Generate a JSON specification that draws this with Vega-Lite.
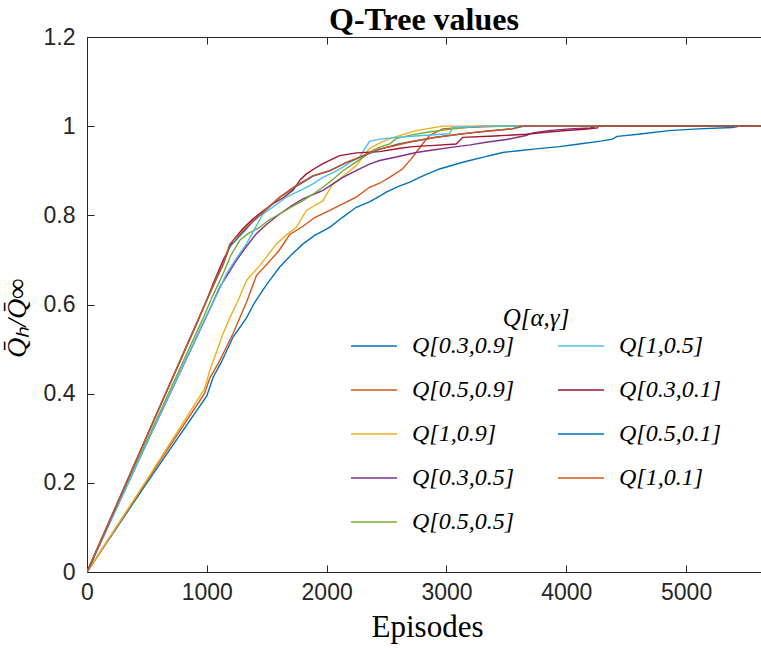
{
  "$schema": "https://vega.github.io/schema/vega-lite/v6.json",
  "width": 674,
  "height": 535,
  "autosize": {"type": "none"},
  "padding": {"left": 87, "top": 37, "right": 0, "bottom": 77},
  "background": "white",
  "title": {"text": "Q-Tree values", "font": "Liberation Serif", "fontSize": 32, "fontWeight": "bold", "color": "#000000", "anchor": "middle", "offset": 5, "dy": 16},
  "config": {
    "view": {"stroke": null},
    "axis": {"grid": false, "domainColor": "#262626", "domainWidth": 1, "tickColor": "#262626", "tickWidth": 1, "labelColor": "#262626", "labelFont": "Liberation Sans", "labelFontSize": 23, "titleFont": "Liberation Serif", "titleFontWeight": "normal", "titleColor": "#000000", "titleFontSize": 31}
  },
  "layer": [
    {
      "data": {"values": [
        {"s":"Q[0.3,0.9]","x":0,"y":0},{"s":"Q[0.3,0.9]","x":500,"y":0.2},{"s":"Q[0.3,0.9]","x":1000,"y":0.395},{"s":"Q[0.3,0.9]","x":1053,"y":0.437},{"s":"Q[0.3,0.9]","x":1120,"y":0.47},{"s":"Q[0.3,0.9]","x":1219,"y":0.527},{"s":"Q[0.3,0.9]","x":1331,"y":0.57},{"s":"Q[0.3,0.9]","x":1400,"y":0.605},{"s":"Q[0.3,0.9]","x":1500,"y":0.645},{"s":"Q[0.3,0.9]","x":1608,"y":0.684},{"s":"Q[0.3,0.9]","x":1700,"y":0.71},{"s":"Q[0.3,0.9]","x":1803,"y":0.736},{"s":"Q[0.3,0.9]","x":1900,"y":0.755},{"s":"Q[0.3,0.9]","x":2025,"y":0.773},{"s":"Q[0.3,0.9]","x":2130,"y":0.795},{"s":"Q[0.3,0.9]","x":2247,"y":0.818},{"s":"Q[0.3,0.9]","x":2358,"y":0.83},{"s":"Q[0.3,0.9]","x":2442,"y":0.843},{"s":"Q[0.3,0.9]","x":2497,"y":0.852},{"s":"Q[0.3,0.9]","x":2600,"y":0.865},{"s":"Q[0.3,0.9]","x":2700,"y":0.875},{"s":"Q[0.3,0.9]","x":2775,"y":0.885},{"s":"Q[0.3,0.9]","x":2942,"y":0.904},{"s":"Q[0.3,0.9]","x":3136,"y":0.919},{"s":"Q[0.3,0.9]","x":3300,"y":0.93},{"s":"Q[0.3,0.9]","x":3469,"y":0.941},{"s":"Q[0.3,0.9]","x":3600,"y":0.945},{"s":"Q[0.3,0.9]","x":3747,"y":0.949},{"s":"Q[0.3,0.9]","x":3942,"y":0.954},{"s":"Q[0.3,0.9]","x":4108,"y":0.96},{"s":"Q[0.3,0.9]","x":4300,"y":0.967},{"s":"Q[0.3,0.9]","x":4386,"y":0.971},{"s":"Q[0.3,0.9]","x":4425,"y":0.977},{"s":"Q[0.3,0.9]","x":4600,"y":0.982},{"s":"Q[0.3,0.9]","x":4858,"y":0.99},{"s":"Q[0.3,0.9]","x":5100,"y":0.994},{"s":"Q[0.3,0.9]","x":5386,"y":0.997},{"s":"Q[0.3,0.9]","x":5450,"y":1.0},{"s":"Q[0.3,0.9]","x":5625,"y":1.0},

        {"s":"Q[0.5,0.9]","x":0,"y":0},{"s":"Q[0.5,0.9]","x":500,"y":0.205},{"s":"Q[0.5,0.9]","x":980,"y":0.4},{"s":"Q[0.5,0.9]","x":1025,"y":0.435},{"s":"Q[0.5,0.9]","x":1100,"y":0.47},{"s":"Q[0.5,0.9]","x":1219,"y":0.535},{"s":"Q[0.5,0.9]","x":1331,"y":0.605},{"s":"Q[0.5,0.9]","x":1414,"y":0.665},{"s":"Q[0.5,0.9]","x":1500,"y":0.69},{"s":"Q[0.5,0.9]","x":1600,"y":0.72},{"s":"Q[0.5,0.9]","x":1692,"y":0.757},{"s":"Q[0.5,0.9]","x":1800,"y":0.775},{"s":"Q[0.5,0.9]","x":1900,"y":0.795},{"s":"Q[0.5,0.9]","x":2025,"y":0.811},{"s":"Q[0.5,0.9]","x":2150,"y":0.828},{"s":"Q[0.5,0.9]","x":2247,"y":0.841},{"s":"Q[0.5,0.9]","x":2358,"y":0.863},{"s":"Q[0.5,0.9]","x":2442,"y":0.872},{"s":"Q[0.5,0.9]","x":2525,"y":0.885},{"s":"Q[0.5,0.9]","x":2633,"y":0.904},{"s":"Q[0.5,0.9]","x":2700,"y":0.925},{"s":"Q[0.5,0.9]","x":2747,"y":0.941},{"s":"Q[0.5,0.9]","x":2800,"y":0.96},{"s":"Q[0.5,0.9]","x":2858,"y":0.979},{"s":"Q[0.5,0.9]","x":2967,"y":0.994},{"s":"Q[0.5,0.9]","x":3133,"y":0.997},{"s":"Q[0.5,0.9]","x":3500,"y":1.0},{"s":"Q[0.5,0.9]","x":5625,"y":1.0},

        {"s":"Q[1,0.9]","x":0,"y":0},{"s":"Q[1,0.9]","x":500,"y":0.207},{"s":"Q[1,0.9]","x":980,"y":0.41},{"s":"Q[1,0.9]","x":1025,"y":0.452},{"s":"Q[1,0.9]","x":1136,"y":0.535},{"s":"Q[1,0.9]","x":1192,"y":0.57},{"s":"Q[1,0.9]","x":1261,"y":0.609},{"s":"Q[1,0.9]","x":1331,"y":0.654},{"s":"Q[1,0.9]","x":1450,"y":0.69},{"s":"Q[1,0.9]","x":1581,"y":0.736},{"s":"Q[1,0.9]","x":1660,"y":0.755},{"s":"Q[1,0.9]","x":1747,"y":0.773},{"s":"Q[1,0.9]","x":1831,"y":0.811},{"s":"Q[1,0.9]","x":1969,"y":0.833},{"s":"Q[1,0.9]","x":2053,"y":0.871},{"s":"Q[1,0.9]","x":2150,"y":0.89},{"s":"Q[1,0.9]","x":2247,"y":0.912},{"s":"Q[1,0.9]","x":2358,"y":0.95},{"s":"Q[1,0.9]","x":2442,"y":0.962},{"s":"Q[1,0.9]","x":2525,"y":0.972},{"s":"Q[1,0.9]","x":2650,"y":0.982},{"s":"Q[1,0.9]","x":2747,"y":0.99},{"s":"Q[1,0.9]","x":2967,"y":1.0},{"s":"Q[1,0.9]","x":5625,"y":1.0},

        {"s":"Q[0.3,0.5]","x":0,"y":0},{"s":"Q[0.3,0.5]","x":500,"y":0.29},{"s":"Q[0.3,0.5]","x":1000,"y":0.575},{"s":"Q[0.3,0.5]","x":1108,"y":0.639},{"s":"Q[0.3,0.5]","x":1247,"y":0.699},{"s":"Q[0.3,0.5]","x":1330,"y":0.73},{"s":"Q[0.3,0.5]","x":1414,"y":0.759},{"s":"Q[0.3,0.5]","x":1500,"y":0.78},{"s":"Q[0.3,0.5]","x":1608,"y":0.803},{"s":"Q[0.3,0.5]","x":1700,"y":0.82},{"s":"Q[0.3,0.5]","x":1803,"y":0.837},{"s":"Q[0.3,0.5]","x":1969,"y":0.856},{"s":"Q[0.3,0.5]","x":2050,"y":0.87},{"s":"Q[0.3,0.5]","x":2136,"y":0.885},{"s":"Q[0.3,0.5]","x":2275,"y":0.904},{"s":"Q[0.3,0.5]","x":2358,"y":0.915},{"s":"Q[0.3,0.5]","x":2442,"y":0.923},{"s":"Q[0.3,0.5]","x":2600,"y":0.932},{"s":"Q[0.3,0.5]","x":2747,"y":0.941},{"s":"Q[0.3,0.5]","x":2900,"y":0.947},{"s":"Q[0.3,0.5]","x":3053,"y":0.953},{"s":"Q[0.3,0.5]","x":3200,"y":0.958},{"s":"Q[0.3,0.5]","x":3331,"y":0.964},{"s":"Q[0.3,0.5]","x":3500,"y":0.97},{"s":"Q[0.3,0.5]","x":3664,"y":0.979},{"s":"Q[0.3,0.5]","x":3720,"y":0.985},{"s":"Q[0.3,0.5]","x":3850,"y":0.99},{"s":"Q[0.3,0.5]","x":4025,"y":0.994},{"s":"Q[0.3,0.5]","x":4200,"y":0.996},{"s":"Q[0.3,0.5]","x":4260,"y":1.0},{"s":"Q[0.3,0.5]","x":5625,"y":1.0},

        {"s":"Q[0.5,0.5]","x":0,"y":0},{"s":"Q[0.5,0.5]","x":500,"y":0.295},{"s":"Q[0.5,0.5]","x":970,"y":0.57},{"s":"Q[0.5,0.5]","x":1050,"y":0.62},{"s":"Q[0.5,0.5]","x":1136,"y":0.669},{"s":"Q[0.5,0.5]","x":1200,"y":0.71},{"s":"Q[0.5,0.5]","x":1275,"y":0.744},{"s":"Q[0.5,0.5]","x":1350,"y":0.76},{"s":"Q[0.5,0.5]","x":1442,"y":0.773},{"s":"Q[0.5,0.5]","x":1520,"y":0.79},{"s":"Q[0.5,0.5]","x":1608,"y":0.803},{"s":"Q[0.5,0.5]","x":1700,"y":0.818},{"s":"Q[0.5,0.5]","x":1803,"y":0.833},{"s":"Q[0.5,0.5]","x":1900,"y":0.85},{"s":"Q[0.5,0.5]","x":1969,"y":0.863},{"s":"Q[0.5,0.5]","x":2050,"y":0.88},{"s":"Q[0.5,0.5]","x":2136,"y":0.9},{"s":"Q[0.5,0.5]","x":2220,"y":0.915},{"s":"Q[0.5,0.5]","x":2303,"y":0.93},{"s":"Q[0.5,0.5]","x":2380,"y":0.945},{"s":"Q[0.5,0.5]","x":2442,"y":0.953},{"s":"Q[0.5,0.5]","x":2525,"y":0.96},{"s":"Q[0.5,0.5]","x":2580,"y":0.972},{"s":"Q[0.5,0.5]","x":2700,"y":0.98},{"s":"Q[0.5,0.5]","x":2850,"y":0.987},{"s":"Q[0.5,0.5]","x":3053,"y":0.994},{"s":"Q[0.5,0.5]","x":3300,"y":1.0},{"s":"Q[0.5,0.5]","x":5625,"y":1.0},

        {"s":"Q[1,0.5]","x":0,"y":0},{"s":"Q[1,0.5]","x":500,"y":0.29},{"s":"Q[1,0.5]","x":997,"y":0.575},{"s":"Q[1,0.5]","x":1080,"y":0.62},{"s":"Q[1,0.5]","x":1164,"y":0.669},{"s":"Q[1,0.5]","x":1250,"y":0.705},{"s":"Q[1,0.5]","x":1331,"y":0.736},{"s":"Q[1,0.5]","x":1400,"y":0.77},{"s":"Q[1,0.5]","x":1469,"y":0.803},{"s":"Q[1,0.5]","x":1560,"y":0.82},{"s":"Q[1,0.5]","x":1664,"y":0.841},{"s":"Q[1,0.5]","x":1803,"y":0.859},{"s":"Q[1,0.5]","x":1900,"y":0.873},{"s":"Q[1,0.5]","x":1969,"y":0.885},{"s":"Q[1,0.5]","x":2050,"y":0.895},{"s":"Q[1,0.5]","x":2136,"y":0.908},{"s":"Q[1,0.5]","x":2200,"y":0.92},{"s":"Q[1,0.5]","x":2275,"y":0.93},{"s":"Q[1,0.5]","x":2320,"y":0.95},{"s":"Q[1,0.5]","x":2358,"y":0.966},{"s":"Q[1,0.5]","x":2442,"y":0.971},{"s":"Q[1,0.5]","x":2600,"y":0.975},{"s":"Q[1,0.5]","x":2800,"y":0.979},{"s":"Q[1,0.5]","x":3025,"y":0.983},{"s":"Q[1,0.5]","x":3053,"y":0.997},{"s":"Q[1,0.5]","x":3300,"y":1.0},{"s":"Q[1,0.5]","x":5625,"y":1.0},

        {"s":"Q[0.3,0.1]","x":0,"y":0},{"s":"Q[0.3,0.1]","x":500,"y":0.305},{"s":"Q[0.3,0.1]","x":928,"y":0.565},{"s":"Q[0.3,0.1]","x":1000,"y":0.61},{"s":"Q[0.3,0.1]","x":1053,"y":0.647},{"s":"Q[0.3,0.1]","x":1136,"y":0.699},{"s":"Q[0.3,0.1]","x":1219,"y":0.744},{"s":"Q[0.3,0.1]","x":1300,"y":0.77},{"s":"Q[0.3,0.1]","x":1386,"y":0.792},{"s":"Q[0.3,0.1]","x":1470,"y":0.81},{"s":"Q[0.3,0.1]","x":1553,"y":0.826},{"s":"Q[0.3,0.1]","x":1640,"y":0.84},{"s":"Q[0.3,0.1]","x":1719,"y":0.856},{"s":"Q[0.3,0.1]","x":1780,"y":0.88},{"s":"Q[0.3,0.1]","x":1831,"y":0.893},{"s":"Q[0.3,0.1]","x":1900,"y":0.905},{"s":"Q[0.3,0.1]","x":1969,"y":0.916},{"s":"Q[0.3,0.1]","x":2108,"y":0.934},{"s":"Q[0.3,0.1]","x":2250,"y":0.94},{"s":"Q[0.3,0.1]","x":2442,"y":0.943},{"s":"Q[0.3,0.1]","x":2600,"y":0.95},{"s":"Q[0.3,0.1]","x":2719,"y":0.954},{"s":"Q[0.3,0.1]","x":2900,"y":0.957},{"s":"Q[0.3,0.1]","x":3081,"y":0.96},{"s":"Q[0.3,0.1]","x":3136,"y":0.975},{"s":"Q[0.3,0.1]","x":3400,"y":0.978},{"s":"Q[0.3,0.1]","x":3664,"y":0.982},{"s":"Q[0.3,0.1]","x":3850,"y":0.987},{"s":"Q[0.3,0.1]","x":4025,"y":0.991},{"s":"Q[0.3,0.1]","x":4150,"y":0.993},{"s":"Q[0.3,0.1]","x":4261,"y":0.996},{"s":"Q[0.3,0.1]","x":4265,"y":1.0},{"s":"Q[0.3,0.1]","x":5625,"y":1.0},

        {"s":"Q[0.5,0.1]","x":0,"y":0},{"s":"Q[0.5,0.1]","x":500,"y":0.305},{"s":"Q[0.5,0.1]","x":1000,"y":0.61},{"s":"Q[0.5,0.1]","x":1136,"y":0.69},{"s":"Q[0.5,0.1]","x":1192,"y":0.73},{"s":"Q[0.5,0.1]","x":1386,"y":0.786},{"s":"Q[0.5,0.1]","x":1608,"y":0.84},{"s":"Q[0.5,0.1]","x":1747,"y":0.865},{"s":"Q[0.5,0.1]","x":1886,"y":0.888},{"s":"Q[0.5,0.1]","x":2025,"y":0.9},{"s":"Q[0.5,0.1]","x":2164,"y":0.918},{"s":"Q[0.5,0.1]","x":2303,"y":0.933},{"s":"Q[0.5,0.1]","x":2442,"y":0.948},{"s":"Q[0.5,0.1]","x":2600,"y":0.96},{"s":"Q[0.5,0.1]","x":2914,"y":0.975},{"s":"Q[0.5,0.1]","x":3200,"y":0.985},{"s":"Q[0.5,0.1]","x":3550,"y":0.994},{"s":"Q[0.5,0.1]","x":3650,"y":1.0},{"s":"Q[0.5,0.1]","x":5625,"y":1.0},

        {"s":"Q[1,0.1]","x":0,"y":0},{"s":"Q[1,0.1]","x":500,"y":0.305},{"s":"Q[1,0.1]","x":1000,"y":0.61},{"s":"Q[1,0.1]","x":1080,"y":0.66},{"s":"Q[1,0.1]","x":1136,"y":0.69},{"s":"Q[1,0.1]","x":1192,"y":0.736},{"s":"Q[1,0.1]","x":1300,"y":0.765},{"s":"Q[1,0.1]","x":1386,"y":0.788},{"s":"Q[1,0.1]","x":1500,"y":0.815},{"s":"Q[1,0.1]","x":1608,"y":0.841},{"s":"Q[1,0.1]","x":1747,"y":0.867},{"s":"Q[1,0.1]","x":1886,"y":0.889},{"s":"Q[1,0.1]","x":2025,"y":0.9},{"s":"Q[1,0.1]","x":2164,"y":0.919},{"s":"Q[1,0.1]","x":2303,"y":0.934},{"s":"Q[1,0.1]","x":2442,"y":0.949},{"s":"Q[1,0.1]","x":2550,"y":0.955},{"s":"Q[1,0.1]","x":2700,"y":0.965},{"s":"Q[1,0.1]","x":2914,"y":0.975},{"s":"Q[1,0.1]","x":3100,"y":0.982},{"s":"Q[1,0.1]","x":3300,"y":0.988},{"s":"Q[1,0.1]","x":3550,"y":0.994},{"s":"Q[1,0.1]","x":3620,"y":1.0},{"s":"Q[1,0.1]","x":5625,"y":1.0}
      ]},
      "mark": {"type": "line", "strokeWidth": 1.4, "clip": true},
      "encoding": {
        "x": {"field": "x", "type": "quantitative", "scale": {"domain": [0, 5625], "nice": false, "zero": false},
              "axis": {"values": [0,1000,2000,3000,4000,5000], "format": "d", "ticks": false, "labelPadding": 9, "labelFlush": false, "title": "Episodes", "titleX": 340, "titleY": 64, "titleBaseline": "alphabetic", "titleAnchor": null, "titleAlign": "center"}},
        "y": {"field": "y", "type": "quantitative", "scale": {"domain": [0, 1.2], "nice": false},
              "axis": {"values": [0,0.2,0.4,0.6,0.8,1,1.2], "format": "~g", "ticks": false, "labelPadding": 12, "labelFlush": false, "title": "Q̄ₕ/Q̄∞", "titleFontStyle": "italic", "titleX": -70, "titleY": 281, "titleAngle": -90, "titleAlign": "center", "titleBaseline": "middle", "titleFontSize": 28}},
        "color": {"field": "s", "type": "nominal", "sort": null,
          "scale": {"domain": ["Q[0.3,0.9]","Q[0.5,0.9]","Q[1,0.9]","Q[0.3,0.5]","Q[0.5,0.5]","Q[1,0.5]","Q[0.3,0.1]","Q[0.5,0.1]","Q[1,0.1]"],
                    "range": ["#0072BD","#D95319","#EDB120","#7E2F8E","#77AC30","#4DBEEE","#A2142F","#0072BD","#D95319"]},
          "legend": {"orient": "none", "legendX": 263, "legendY": 269, "columns": 2, "padding": 0, "columnPadding": 40, "rowPadding": 8,
                     "symbolType": "stroke", "symbolSize": 2116, "symbolStrokeWidth": 1.5, "labelOffset": 14,
                     "labelFont": "Liberation Serif", "labelFontStyle": "italic", "labelFontSize": 24, "labelColor": "#000000", "labelLimit": 300,
                     "title": "Q[α,γ]", "titleFont": "Liberation Serif", "titleFontStyle": "italic", "titleFontWeight": "normal", "titleFontSize": 25, "titleColor": "#000000", "titleAnchor": "middle", "titlePadding": -9}}
      }
    },
    {
      "data": {"values": [{"x": 0, "y": 0}]},
      "mark": {"type": "point", "opacity": 0},
      "encoding": {
        "x": {"field": "x", "type": "quantitative", "scale": {"domain": [0, 5625], "nice": false, "zero": false},
              "axis": {"orient": "top", "offset": -535, "values": [0,1000,2000,3000,4000,5000], "labels": false, "domain": false, "tickSize": 7, "title": null}},
        "y": {"field": "y", "type": "quantitative", "scale": {"domain": [0, 1.2], "nice": false},
              "axis": {"orient": "right", "offset": -674, "values": [0,0.2,0.4,0.6,0.8,1,1.2], "labels": false, "domain": false, "tickSize": 7, "title": null}}
      }
    },
    {
      "data": {"values": [{"x": 0, "y": 0}]},
      "mark": {"type": "point", "opacity": 0},
      "encoding": {
        "x": {"field": "x", "type": "quantitative", "scale": {"domain": [0, 5625], "nice": false, "zero": false},
              "axis": {"orient": "bottom", "offset": -535, "values": [0,1000,2000,3000,4000,5000], "labels": false, "domain": true, "tickSize": 7, "title": null}},
        "y": {"field": "y", "type": "quantitative", "scale": {"domain": [0, 1.2], "nice": false}, "axis": null}
      }
    }
  ],
  "resolve": {"axis": {"x": "independent", "y": "independent"}}
}
